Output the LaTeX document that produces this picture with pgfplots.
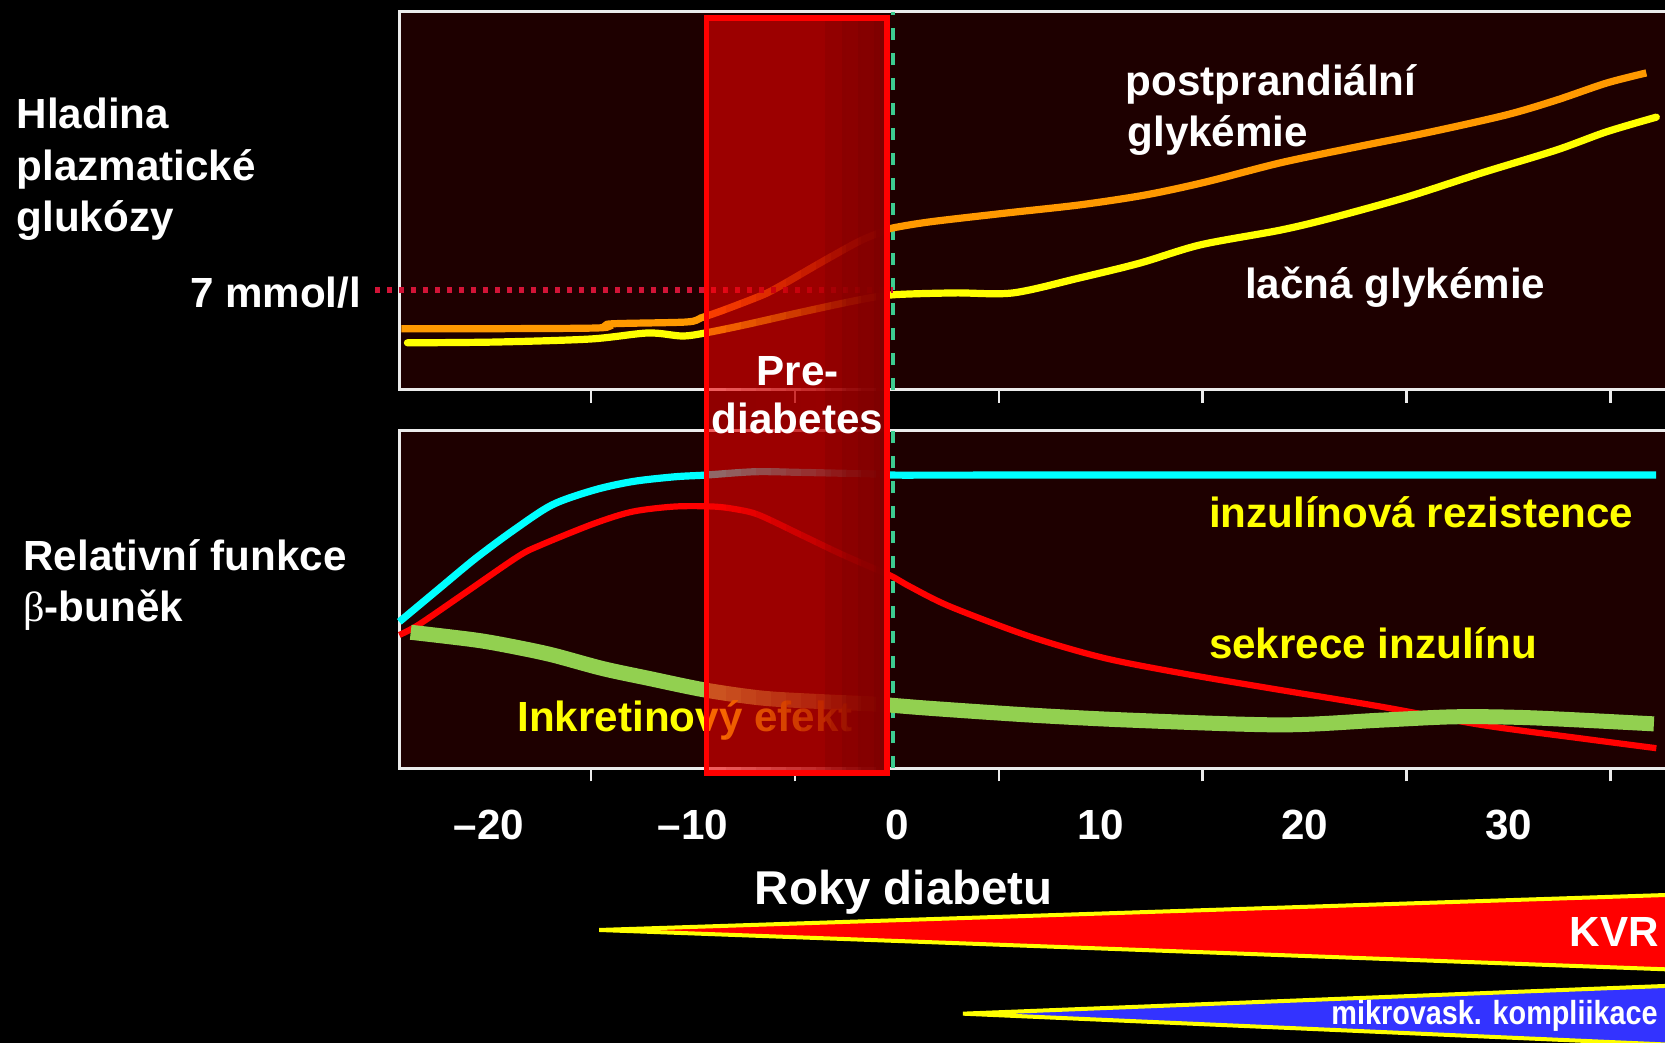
\documentclass[border=0pt]{standalone}
\usepackage{fontspec}
\setmainfont{Liberation Sans}
\newfontfamily\symbfont{Liberation Serif}
\usepackage{pgfplots}
\pgfplotsset{compat=1.18}

\definecolor{panelbg}{RGB}{30,0,0}
\definecolor{ppg}{RGB}{255,153,0}
\definecolor{fpg}{RGB}{255,255,0}
\definecolor{irline}{RGB}{0,255,255}
\definecolor{secline}{RGB}{255,0,0}
\definecolor{incline}{RGB}{146,208,80}
\definecolor{thresh}{RGB}{210,20,55}
\definecolor{onset}{RGB}{60,205,145}
\definecolor{frame}{RGB}{235,235,235}
\definecolor{boxmid}{RGB}{160,0,0}
\definecolor{boxdark}{RGB}{100,0,0}
\definecolor{microblue}{RGB}{51,51,255}

\newcommand{\lbl}{\bfseries\fontsize{12}{14}\selectfont}

\tikzset{txt/.style={font=\lbl, text=white, inner sep=0pt}}

\pgfplotsset{
  panel/.style={
    anchor=south west,
    scale only axis,
    width=127.23mm,
    xmin=-24.4, xmax=38,
    ymin=0, ymax=100,
    clip=false,
    axis background/.style={fill=panelbg},
    axis line style={frame, line width=0.25mm},
    tick style={frame, line width=0.25mm},
    ytick=\empty,
    xtick pos=left,
    tick align=outside,
    extra x ticks={-15,-5,5,15,25,35},
    extra x tick labels={,,,,,},
    extra x tick style={major tick length=1.3mm},
    tick label style={font=\lbl, text=white},
  },
}

\begin{document}
\begin{tikzpicture}
\useasboundingbox (0,0) rectangle (166.5mm,104.3mm);
\fill[black] (0,0) rectangle (166.5mm,104.3mm);

% ---------------- plasma glucose panel ----------------
\begin{axis}[panel, at={(39.93mm,65.33mm)}, height=37.8mm, xtick=\empty]
  % diagnosis of diabetes
  \addplot[onset, line width=0.36mm, dash pattern=on 1.2mm off 1.3mm] coordinates {(-0.2,0) (-0.2,100)};
  % postprandial glycaemia
  \addplot[ppg, line width=0.72mm, smooth] coordinates {
    (-24.3,16.1) (-14.85,16.3) (-14.06,17.4) (-10.33,17.9) (-9.6,19.0)
    (-8.47,21.1) (-6.56,25.1) (-5.63,27.7) (-3.77,33.5) (-1.90,39.1)
    (-0.77,41.7) (-0.18,42.8) (1.63,44.4) (5.31,46.7) (8.99,48.9)
    (12.18,51.5) (15.12,54.9) (18.8,60.0) (22.53,64.2) (26.2,68.2)
    (29.9,72.7) (32.35,76.6) (34.8,81.1) (36.76,83.8)};
  % fasting glycaemia
  \addplot[fpg, line width=0.72mm, smooth, line cap=round] coordinates {
    (-24.0,12.4) (-19.7,12.6) (-15.04,13.4) (-12.2,15.0) (-10.53,14.2)
    (-9.4,15.0) (-7.49,17.1) (-4.69,20.5) (-1.9,23.7) (-0.18,25.1)
    (2.86,25.6) (5.7,25.6) (8.99,29.6) (11.93,33.5) (14.88,38.3)
    (18.8,42.2) (21.3,45.4) (24.98,50.9) (28.66,57.3) (32.35,63.4)
    (34.8,68.2) (37.25,72.1)};
  % 7 mmol/l threshold
  \addplot[thresh, line width=0.58mm, dash pattern=on 0.55mm off 0.65mm] coordinates {(-25.6,26.4) (-0.2,26.4)};
  \node[txt, anchor=base east, xshift=-1.3mm, yshift=-1.8mm] at (-25.6,26.4) {7 mmol/l};
  \node[txt, anchor=base west] at (11.20,77.7) {postprandiální};
  \node[txt, anchor=base west] at (11.28,64.3) {glykémie};
  \node[txt, anchor=base west] at (17.05,24.0) {lačná glykémie};
\end{axis}

% ---------------- beta-cell function panel ----------------
\begin{axis}[panel, at={(39.93mm,27.45mm)}, height=33.8mm,
  xtick={-20,-10,0,10,20,30},
  xticklabels={\textendash20,\textendash10,0,10,20,30},
  major tick length=0pt,
  xticklabel style={anchor=base, yshift=-7.15mm},
  xlabel={Roky diabetu},
  xlabel style={at={(axis description cs:0.3965,-0.4038)}, anchor=base,
    font=\bfseries\fontsize{13.5}{16}\selectfont, text=white},
]
  \addplot[onset, line width=0.36mm, dash pattern=on 1.2mm off 1.3mm] coordinates {(-0.2,0) (-0.2,100)};
  % insulin resistance
  \addplot[irline, line width=0.72mm, smooth] coordinates {
    (-24.4,43.4) (-22.53,52.8) (-20.65,62.2) (-18.77,70.6) (-16.9,78.0)
    (-14.83,82.4) (-12.95,84.9) (-10.89,86.3) (-9.39,86.8) (-6.95,87.8)
    (-4.69,87.6) (-0.94,87.1) (-0.1,86.8) (5,86.8) (37.24,86.8)};
  % insulin secretion
  \addplot[secline, line width=0.62mm, smooth] coordinates {
    (-24.4,39.5) (-23.46,42.5) (-21.21,51.8) (-18.58,62.7) (-17.46,66.1)
    (-14.83,72.5) (-12.95,76.0) (-10.89,77.5) (-9.01,77.5) (-7.89,76.7)
    (-6.76,75.0) (-4.69,69.1) (-2.82,63.7) (-0.94,58.7) (-0.19,56.7)
    (0.65,53.8) (2.62,47.9) (6.55,39.0) (10.23,32.6) (14.41,27.7)
    (18.83,23.2) (23.74,18.3) (28.65,12.9) (33.56,8.9) (37.25,6.0)};
  % incretin effect
  \addplot[incline, line width=1.5mm, smooth] coordinates {
    (-23.84,40.3) (-20.65,38.0) (-18.77,36.0) (-16.9,33.6) (-14.45,29.6)
    (-12.2,26.7) (-9.39,23.2) (-6.57,20.8) (-3.76,19.8) (-0.94,19.0)
    (1.63,17.8) (6.55,15.8) (11.46,14.3) (18.83,12.9) (23.74,14.3)
    (27.42,15.3) (31.11,15.0) (37.13,13.2)};
  \node[txt, text=fpg, anchor=base west] at (15.28,71.4) {inzulínová rezistence};
  \node[txt, text=fpg, anchor=base west] at (15.28,32.4) {sekrece inzulínu};
  \node[txt, text=fpg, anchor=base west] at (-18.64,10.9) {Inkretinový efekt};

  % complication wedges
  \addplot[fill=secline, draw=fpg, line width=0.4mm] coordinates {(39.4,-37.10) (-14.6,-47.78) (39.4,-59.79)};
  \addplot[fill=microblue, draw=fpg, line width=0.4mm] coordinates {(39.4,-63.93) (3.24,-72.54) (39.4,-82.10)};
  \node[txt, anchor=base east] at (37.41,-52.72) {KVR};
  \node[txt, anchor=base east, font=\bfseries\fontsize{10}{12}\selectfont, yshift=-0.3mm] at (37.35,-74.91)
    {\scalebox{0.82}[0.95]{mikrovask. kompliikace}};

  % pre-diabetes window: translucent red, more opaque towards diagnosis
  \fill[secline, fill opacity=0.56] (-9.34,-1.33) rectangle (-0.47,222.0);
  \fill[boxmid, fill opacity=0.0792] (-9.14,-1.33) rectangle (-0.47,222.0);
  \fill[boxmid, fill opacity=0.0859] (-8.40,-1.33) rectangle (-0.47,222.0);
  \fill[boxmid, fill opacity=0.0941] (-7.66,-1.33) rectangle (-0.47,222.0);
  \fill[boxmid, fill opacity=0.1039] (-6.92,-1.33) rectangle (-0.47,222.0);
  \fill[boxmid, fill opacity=0.1158] (-6.18,-1.33) rectangle (-0.47,222.0);
  \fill[boxmid, fill opacity=0.1311] (-5.45,-1.33) rectangle (-0.47,222.0);
  \fill[boxmid, fill opacity=0.1508] (-4.71,-1.33) rectangle (-0.47,222.0);
  \fill[boxmid, fill opacity=0.1776] (-3.97,-1.33) rectangle (-0.47,222.0);
  \fill[boxmid, fill opacity=0.2159] (-3.23,-1.33) rectangle (-0.47,222.0);
  \fill[boxmid, fill opacity=0.2754] (-2.49,-1.33) rectangle (-0.47,222.0);
  \fill[boxmid, fill opacity=0.3797] (-1.75,-1.33) rectangle (-0.47,222.0);
  \fill[boxmid, fill opacity=0.6130] (-1.01,-1.33) rectangle (-0.47,222.0);
  \pgfplotsinvokeforeach{0,...,3}{
    \fill[boxdark, fill opacity=0.16] ({-3.5+0.8*#1},-1.33) rectangle (-0.47,222.0);
  }
  \draw[secline, line width=0.57mm] (-9.34,-1.33) rectangle (-0.47,222.0);
  \node[txt, anchor=base] at (-4.87,113.2) {Pre-};
  \node[txt, anchor=base] at (-4.87,99.2) {diabetes};
\end{axis}

% side captions
\node[txt, anchor=base west] at (1.6mm,91.41mm) {Hladina};
\node[txt, anchor=base west] at (1.6mm,86.23mm) {plazmatické};
\node[txt, anchor=base west] at (1.6mm,81.16mm) {glukózy};
\node[txt, anchor=base west] at (2.27mm,47.21mm) {Relativní funkce};
\node[txt, anchor=base west] at (2.27mm,42.12mm) {{\symbfont\mdseries β}-buněk};
\end{tikzpicture}
\end{document}
